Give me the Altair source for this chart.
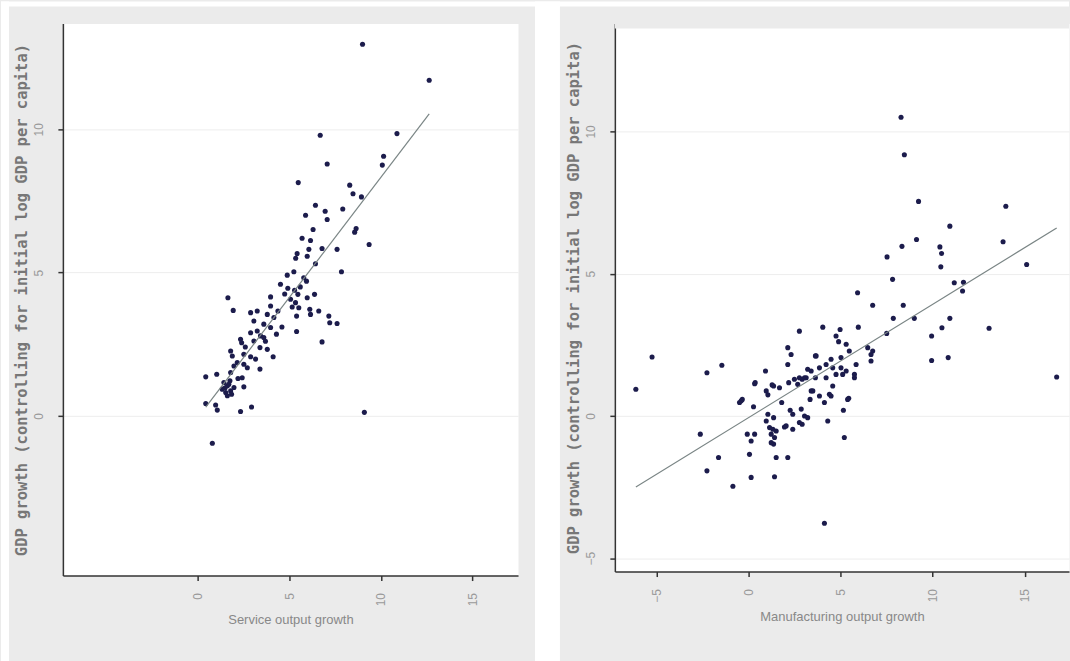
import altair as alt
import pandas as pd

# Service-sector panel: service output growth vs GDP growth (conditional on initial income)
svc_x = [9.00, 12.64, 6.69, 10.88, 7.07, 10.15, 10.08, 5.49, 8.30, 8.48, 8.94, 6.43, 5.89, 6.96,
         7.07, 7.92, 8.65, 8.57, 9.36, 6.16, 7.61, 6.79, 6.07, 5.43, 5.35, 5.98, 6.43, 7.85, 4.89,
         5.25, 5.79, 5.94, 4.52, 4.92, 5.29, 5.47, 6.38, 5.98, 5.07, 3.98, 1.65, 1.94, 5.34, 5.16,
         5.52, 6.12, 6.61, 6.16, 5.40, 7.16, 7.61, 7.21, 3.98, 4.38, 2.89, 3.25, 3.80, 4.16, 3.07,
         3.61, 3.98, 3.25, 3.43, 3.61, 2.89, 5.40, 2.34, 2.40, 3.07, 3.40, 3.80, 4.12, 6.79, 1.80,
         1.89, 2.52, 2.89, 2.16, 3.16, 1.98, 2.52, 3.40, 2.71, 0.44, 1.04, 1.80, 2.43, 1.43, 1.62,
         1.76, 2.52, 1.34, 1.53, 1.80, 1.98, 1.62, 0.44, 0.98, 1.07, 2.34, 2.94, 9.10, 0.80, 1.70,
         1.85, 1.50, 4.60, 4.30, 2.60, 3.70, 4.75, 5.60, 2.20, 6.30, 5.70]
svc_y = [12.97, 11.71, 9.79, 9.85, 8.79, 9.06, 8.75, 8.14, 8.05, 7.75, 7.64, 7.35, 7.00, 7.14,
         6.85, 7.22, 6.54, 6.41, 5.98, 6.12, 5.81, 5.84, 5.81, 5.66, 5.50, 5.57, 5.31, 5.03, 4.91,
         5.03, 4.82, 4.70, 4.59, 4.45, 4.38, 4.24, 4.24, 4.12, 4.07, 4.15, 4.12, 3.68, 3.95, 3.80,
         3.77, 3.72, 3.66, 3.54, 3.48, 3.48, 3.22, 3.25, 3.83, 3.66, 3.60, 3.66, 3.54, 3.43, 3.31,
         3.20, 3.08, 2.96, 2.79, 2.73, 2.90, 2.94, 2.67, 2.55, 2.61, 2.38, 2.32, 2.06, 2.58, 2.26,
         2.09, 2.15, 2.06, 1.86, 1.98, 1.74, 1.80, 1.63, 1.68, 1.36, 1.45, 1.51, 1.33, 1.16, 1.05,
         1.22, 1.01, 0.93, 0.81, 0.87, 0.99, 0.70, 0.43, 0.38, 0.20, 0.15, 0.31, 0.12, -0.96, 1.10,
         0.75, 0.98, 3.10, 2.85, 2.40, 2.60, 4.25, 4.50, 1.30, 6.50, 6.20]

# Manufacturing panel: manufacturing output growth vs GDP growth
mfg_x = [-6.12, -5.24, -2.26, -1.45, -2.62, -1.63, -2.26, -0.85, 0.14, 1.41, 0.05, -0.07, 0.33,
         0.14, -0.49, -0.34, 0.27, 0.36, 0.92, 0.96, 1.05, 1.36, 1.68, 0.96, 1.14, 1.05, 1.36,
         1.50, 1.23, 1.41, 1.36, 1.50, 2.13, 1.80, 1.95, 2.26, 2.40, 2.86, 2.91, 3.04, 3.21, 3.40,
         3.34, 2.18, 2.49, 2.91, 3.21, 3.40, 2.13, 2.31, 2.13, 2.76, 3.67, 8.28, 8.46, 9.23, 13.97,
         10.93, 9.12, 8.33, 10.39, 10.48, 13.82, 7.52, 10.44, 15.10, 7.82, 11.17, 11.67, 11.62,
         5.92, 6.74, 8.40, 7.86, 9.00, 10.93, 10.50, 13.06, 7.50, 5.96, 9.94, 9.94, 10.84, 16.73,
         4.03, 4.97, 4.75, 4.89, 5.30, 5.47, 6.47, 6.74, 6.65, 3.63, 4.48, 5.02, 4.21, 4.57, 5.02,
         3.85, 5.84, 5.75, 5.75, 4.21, 5.11, 4.57, 3.49, 3.85, 4.48, 5.44, 3.04, 0.33, 1.28, -0.40,
         2.67, 2.76, 4.12, 4.39, 2.40, 1.32, 2.04, 2.76, 4.30, 5.15, 5.38, 5.20, 1.23, 6.65, 5.30,
         4.75, 3.63, 3.13, 4.12]
mfg_y = [0.94, 2.07, 1.52, 1.78, -0.64, -1.46, -1.93, -2.47, -2.16, -2.14, -1.35, -0.64, -0.64,
         -0.88, 0.47, 0.58, 0.32, 1.17, 1.58, 0.88, 0.74, 1.05, 0.99, -0.18, -0.41, 0.06, -0.06,
         -0.53, -0.64, -0.76, -0.99, -1.46, -1.46, 0.47, -0.39, 0.20, -0.47, 0.24, -0.29, 0.00,
         -0.06, 0.88, 0.58, 1.17, 1.29, 1.29, 1.64, 1.58, 2.40, 2.16, 1.81, 2.98, 2.11, 10.50,
         9.18, 7.54, 7.37, 6.67, 6.20, 5.96, 5.94, 5.71, 6.12, 5.59, 5.24, 5.32, 4.80, 4.68, 4.70,
         4.39, 4.33, 3.89, 3.89, 3.43, 3.43, 3.43, 3.10, 3.08, 2.90, 3.12, 2.81, 1.95, 2.05, 1.37,
         3.12, 3.04, 2.81, 2.61, 2.52, 2.28, 2.40, 2.28, 1.93, 2.11, 1.99, 2.05, 1.81, 1.69, 1.69,
         1.69, 1.81, 1.46, 1.34, 1.34, 1.46, 1.05, 0.88, 0.70, 0.70, 0.62, 1.34, 1.13, 1.09, 0.53,
         1.11, 1.34, 0.47, 0.76, 0.06, -0.47, -0.35, -0.23, -0.18, 0.20, 0.58, -0.76, -0.94, 2.16,
         1.58, 1.46, 1.34, 1.34, -3.77]

svc_ticks = [0, 5, 10, 15]
mfg_ticks = [-5, 0, 5, 10, 15]
svc_yticks = [0, 5, 10]
mfg_yticks = [-5, 0, 5, 10]

Y_TITLE = "GDP growth (controlling for initial log GDP per capita)"
INK = "#333333"
DOT = "#1c1c4c"
FIT = "#7a8585"
SANS = "Liberation Sans"


def x_axis(values, title):
    return alt.Axis(values=values, title=title, grid=False,
                    domainColor=INK, domainWidth=1.5,
                    tickColor=INK, tickSize=5, tickWidth=1.5,
                    labelAngle=270, labelAlign="right", labelBaseline="middle",
                    labelPadding=12, labelColor="#9a9a9a", labelFontSize=12,
                    labelFont=SANS, labelFlush=False,
                    titleFont=SANS, titleFontSize=13,
                    titleFontWeight="normal", titleColor="#888888", titlePadding=8)


def y_axis(values):
    return alt.Axis(values=values, title=Y_TITLE, grid=True,
                    gridColor="#ededed", gridWidth=1,
                    domainColor=INK, domainWidth=1.5,
                    tickColor=INK, tickSize=5, tickWidth=1.5,
                    labelAngle=270, labelAlign="center", labelBaseline="bottom",
                    labelPadding=12, labelColor="#9a9a9a", labelFontSize=12,
                    labelFont=SANS, labelFlush=False, labelOverlap=False,
                    titleFont="DejaVu Sans Mono", titleFontSize=15.5,
                    titleFontWeight="bold", titleColor="#777777", titlePadding=3)


def panel(xs, ys, xdom, ydom, xticks, yticks, xtitle):
    df = pd.DataFrame({"x": xs, "y": ys})
    base = alt.Chart(df)
    x = alt.X("x:Q", scale=alt.Scale(domain=xdom, nice=False, zero=False),
              axis=x_axis(xticks, xtitle))
    y = alt.Y("y:Q", scale=alt.Scale(domain=ydom, nice=False, zero=False),
              axis=y_axis(yticks))
    dots = base.mark_circle(size=26, color=DOT, opacity=1).encode(x=x, y=y)
    fit = base.transform_regression("x", "y").mark_line(
        color=FIT, strokeWidth=1.2).encode(x="x:Q", y="y:Q")
    return dots, fit


one = pd.DataFrame({"k": [0]})


def strip(x0, x1, y0, y1, color="white"):
    return alt.Chart(one).mark_rect(color=color).encode(
        x=alt.value(x0), x2=alt.value(x1), y=alt.value(y0), y2=alt.value(y1))


d1, f1 = panel(svc_x, svc_y, [-7.36, 17.49], [-5.575, 13.69],
               svc_ticks, svc_yticks, "Service output growth")
left = alt.layer(
    d1, f1,
    strip(-62, 1008, -22, -17),   # white margin along the top
    strip(-62, -54, -22, 639),    # white margin on the left
    strip(473, 498, -22, 639),    # white gutter between the two panels
).properties(width=456, height=553)

d2, f2 = panel(mfg_x, mfg_y, [-7.26, 17.4], [-5.47, 13.79],
               mfg_ticks, mfg_yticks, "Manufacturing output growth")
right = alt.layer(
    strip(0, 455, 0, 5, color="#ebebeb"),  # grey band above the plot frame
    d2, f2,
).properties(width=455, height=549)

chart = alt.hconcat(left, right, spacing=97, bounds="flush").properties(
    padding=0, background="#ebebeb"
).configure_view(fill="white", stroke="transparent")

chart.save("out.html", embed_options={"renderer": "svg", "actions": False})
